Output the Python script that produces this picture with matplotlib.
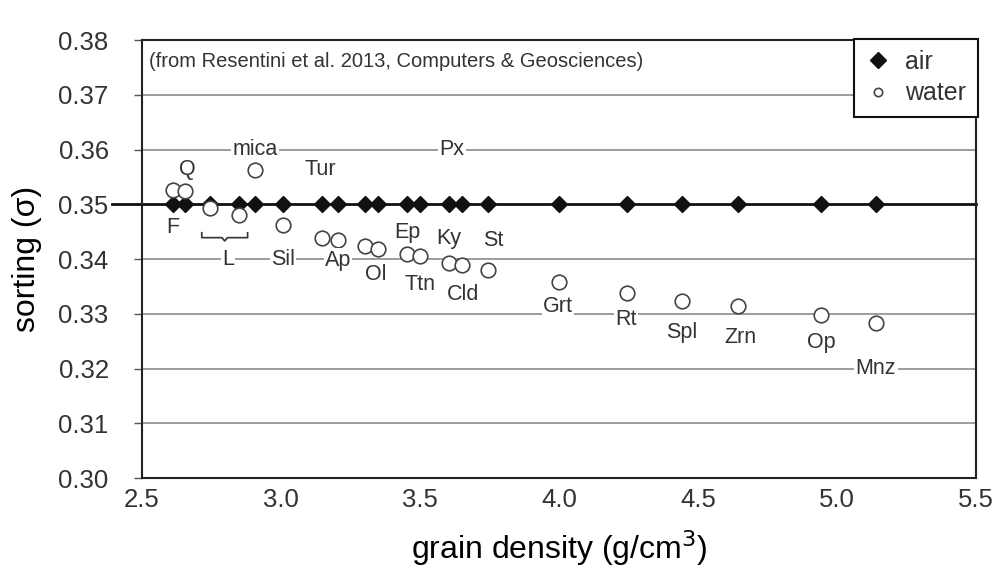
import numpy as np
import matplotlib.pyplot as plt

plt.rcParams['font.family'] = ['Liberation Sans', 'DejaVu Sans']
plt.rcParams['text.color'] = '#333333'

# grain density (g/cm3) of each mineral
density = [2.61, 2.655, 2.745, 2.85, 2.906, 3.007, 3.147, 3.205, 3.302, 3.349, 3.453,
           3.50, 3.604, 3.651, 3.745, 4.00, 4.245, 4.442, 4.644, 4.942, 5.14]
# sorting in air (constant) and in water
sort_air = [0.35, 0.35, 0.35, 0.35, 0.35, 0.35, 0.35, 0.35, 0.35, 0.35, 0.35,
            0.35, 0.35, 0.35, 0.35, 0.35, 0.35, 0.35, 0.35, 0.35, 0.35]
sort_water = [0.3526, 0.3524, 0.3493, 0.3480, 0.3563, 0.3462, 0.3438, 0.3435, 0.3424,
              0.3418, 0.3409, 0.3405, 0.3393, 0.3389, 0.3380, 0.3358, 0.3338, 0.3323,
              0.3314, 0.3298, 0.3283]

# mineral labels
lab_names = ['Q', 'F', 'L', 'mica', 'Tur', 'Sil', 'Ap', 'Ol', 'Ep', 'Ttn', 'Ky', 'Cld',
             'St', 'Px', 'Grt', 'Rt', 'Spl', 'Zrn', 'Op', 'Mnz']
lab_x = [2.662, 2.61, 2.81, 2.906, 3.14, 3.007, 3.205, 3.342, 3.453, 3.50, 3.604, 3.655,
         3.763, 3.615, 3.997, 4.241, 4.442, 4.651, 4.942, 5.14]
lab_y = [0.3563, 0.3457, 0.3400, 0.3600, 0.3563, 0.3400, 0.3398, 0.3371, 0.3449, 0.3354,
         0.3437, 0.3336, 0.3433, 0.3600, 0.3314, 0.3289, 0.3265, 0.3256, 0.3247, 0.3200]

yticks = [0.30, 0.31, 0.32, 0.33, 0.34, 0.35, 0.36, 0.37, 0.38]
xticks = [2.5, 3.0, 3.5, 4.0, 4.5, 5.0, 5.5]
gridlines = [0.31, 0.32, 0.33, 0.34, 0.36, 0.37]

fig, ax = plt.subplots(figsize=(9.97, 5.70), dpi=100)
fig.subplots_adjust(left=0.1424, right=0.979, top=0.9298, bottom=0.1614)

for g in gridlines:
    ax.axhline(g, color='#8c8c8c', lw=1.2, zorder=1)
ax.axhline(0.35, xmin=-0.036, xmax=1, color='#111111', lw=2, zorder=2, clip_on=False)

ax.plot(density, sort_air, linestyle='none', marker='D', color='#111111', ms=8,
        zorder=3, label='air')
ax.plot(density, sort_water, linestyle='none', marker='o', mfc='white', mec='#444444',
        mew=1.2, ms=10.5, zorder=4, label='water')

for name, x, y in zip(lab_names, lab_x, lab_y):
    ax.text(x, y, name, ha='center', va='center', fontsize=15.5, zorder=5,
            bbox=dict(fc='white', ec='none', pad=1.0))

# brace under the two lithic grains
bx0, bx1 = density[2] - 0.03, density[3] + 0.03
bm = (bx0 + bx1) / 2
ax.plot([bx0, bx0, bm - 0.01, bm, bm + 0.01, bx1, bx1],
        [0.3448, 0.3439, 0.3439, 0.3433, 0.3439, 0.3439, 0.3448],
        color='#333333', lw=1.2, zorder=5)

ax.text(0.008, 0.952, '(from Resentini et al. 2013, Computers & Geosciences)',
        transform=ax.transAxes, ha='left', va='center', fontsize=14.5)

ax.set_xlim(2.5, 5.5)
ax.set_ylim(0.30, 0.38)
ax.set_xticks(xticks)
ax.set_xticklabels(['%.1f' % v for v in xticks])
ax.set_yticks(yticks)
ax.set_yticklabels(['%.2f' % v for v in yticks])
ax.tick_params(axis='y', length=6, width=1, color='#555555', pad=18, labelsize=18.5,
               labelcolor='#333333')
ax.tick_params(axis='x', length=0, pad=7, labelsize=18.5, labelcolor='#333333')
for s in ax.spines.values():
    s.set_linewidth(1.5)
    s.set_color('#222222')

ax.set_xlabel('grain density (g/cm$^3$)', fontsize=23, labelpad=12)
ax.set_ylabel('sorting (σ)', fontsize=23, labelpad=12)

leg = ax.legend(loc='upper right', bbox_to_anchor=(1.002, 1.003), borderaxespad=0,
                fontsize=18, frameon=True, fancybox=False, framealpha=1,
                edgecolor='#111111', handletextpad=0.6, borderpad=0.45,
                handlelength=1.0, labelspacing=0.3)
leg.get_frame().set_linewidth(1.5)
leg.legend_handles[1].set_markersize(6)

plt.savefig('out.png', dpi=100)
